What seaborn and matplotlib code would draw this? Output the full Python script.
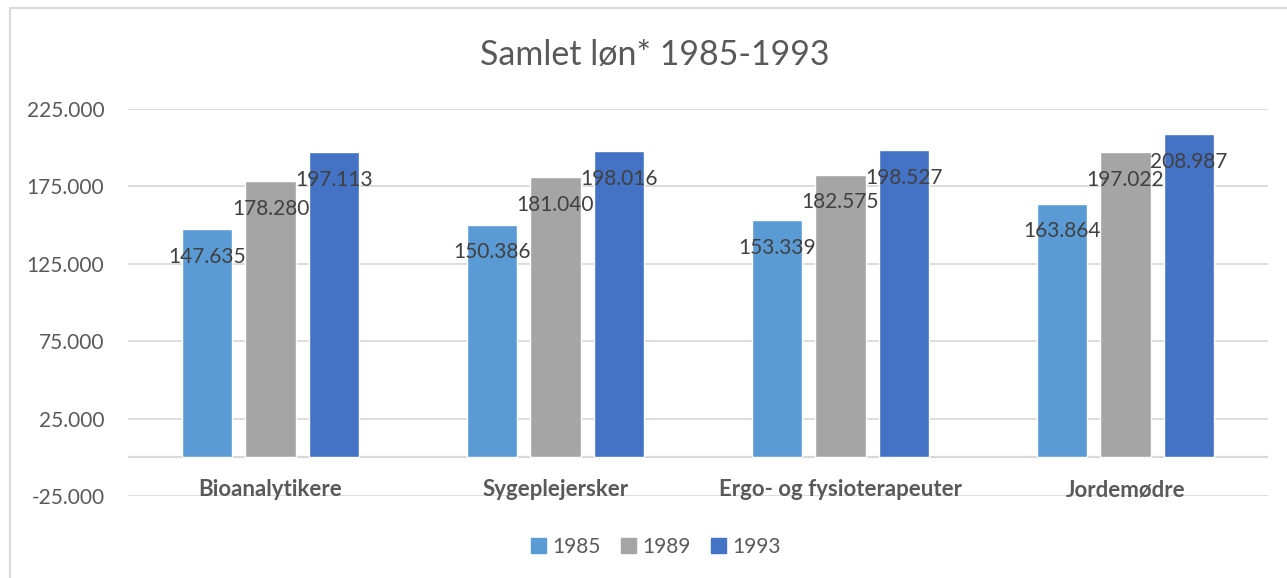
import pandas as pd
import numpy as np
import matplotlib
matplotlib.use('Agg')
import matplotlib.pyplot as plt
from matplotlib.lines import Line2D
from matplotlib.ticker import FuncFormatter
import seaborn as sns

# data
categories = ['Bioanalytikere', 'Sygeplejersker', 'Ergo- og fysioterapeuter', 'Jordemødre']
years = ['1985', '1989', '1993']
loen_1985 = [147635, 150386, 153339, 163864]
loen_1989 = [178280, 181040, 182575, 197022]
loen_1993 = [197113, 198016, 198527, 208987]
yticks = [-25000, 25000, 75000, 125000, 175000, 225000]
colors = ['#5B9BD5', '#A5A5A5', '#4472C4']

df = pd.DataFrame({
    'Fag': categories * 3,
    'År': [y for y in years for _ in categories],
    'Løn': loen_1985 + loen_1989 + loen_1993,
})

sns.set_style('white')
plt.rcParams['font.family'] = ['Lato', 'DejaVu Sans']

txt = '#595959'
grid = '#D9D9D9'

fig = plt.figure(figsize=(12.87, 5.78), dpi=100)
ax = fig.add_axes([128 / 1287, 1 - 496 / 578, 1140 / 1287, 387 / 578])

sns.barplot(data=df, x='Fag', y='Løn', hue='År', palette=colors, order=categories,
            hue_order=years, width=0.67, gap=0.21, saturation=1, ax=ax,
            legend=False, zorder=3)

ax.set_ylim(-25000, 225000)
ax.set_yticks(yticks)
ax.yaxis.set_major_formatter(FuncFormatter(lambda v, p: f'{int(v):,}'.replace(',', '.')))
ax.tick_params(axis='y', labelsize=15, labelcolor=txt, length=0, pad=17)
ax.set_xticks([])
ax.set_xlabel('')
ax.set_ylabel('')
for s in ax.spines.values():
    s.set_visible(False)
ax.grid(axis='y', color=grid, lw=1.3, zorder=0)
ax.axhline(0, color=grid, lw=1.6, zorder=2)
ax.set_xlim(-0.5, len(categories) - 0.5)

# data labels
for cont in ax.containers:
    for bar in cont:
        h = bar.get_height()
        ax.annotate(f'{int(round(h)):,}'.replace(',', '.'),
                    (bar.get_x() + bar.get_width() / 2, h),
                    xytext=(0, -20), textcoords='offset points',
                    ha='center', va='center', fontsize=15, color='#404040', zorder=5)

# category labels below the zero line
for i, c in enumerate(categories):
    ax.text(i, -21000, c, ha='center', va='center', fontsize=16,
            fontweight='bold', color=txt)

fig.text(655 / 1287, 1 - 55 / 578, 'Samlet løn* 1985-1993', ha='center', va='center',
         fontsize=24.5, color=txt)

handles = [plt.Rectangle((0, 0), 1, 1, color=c) for c in colors]
fig.legend(handles, years, loc='center', bbox_to_anchor=(656 / 1287, 1 - 547 / 578),
           ncol=3, frameon=False, fontsize=15, handlelength=0.7, handleheight=0.7,
           handletextpad=0.3, columnspacing=1.0, labelcolor=txt)

# chart frame
fig.add_artist(Line2D([10 / 1287, 10 / 1287], [0, 1 - 8 / 578], color=grid, lw=1.5))
fig.add_artist(Line2D([10 / 1287, 1], [1 - 8 / 578, 1 - 8 / 578], color=grid, lw=1.5))

fig.savefig('out.png', dpi=100)
